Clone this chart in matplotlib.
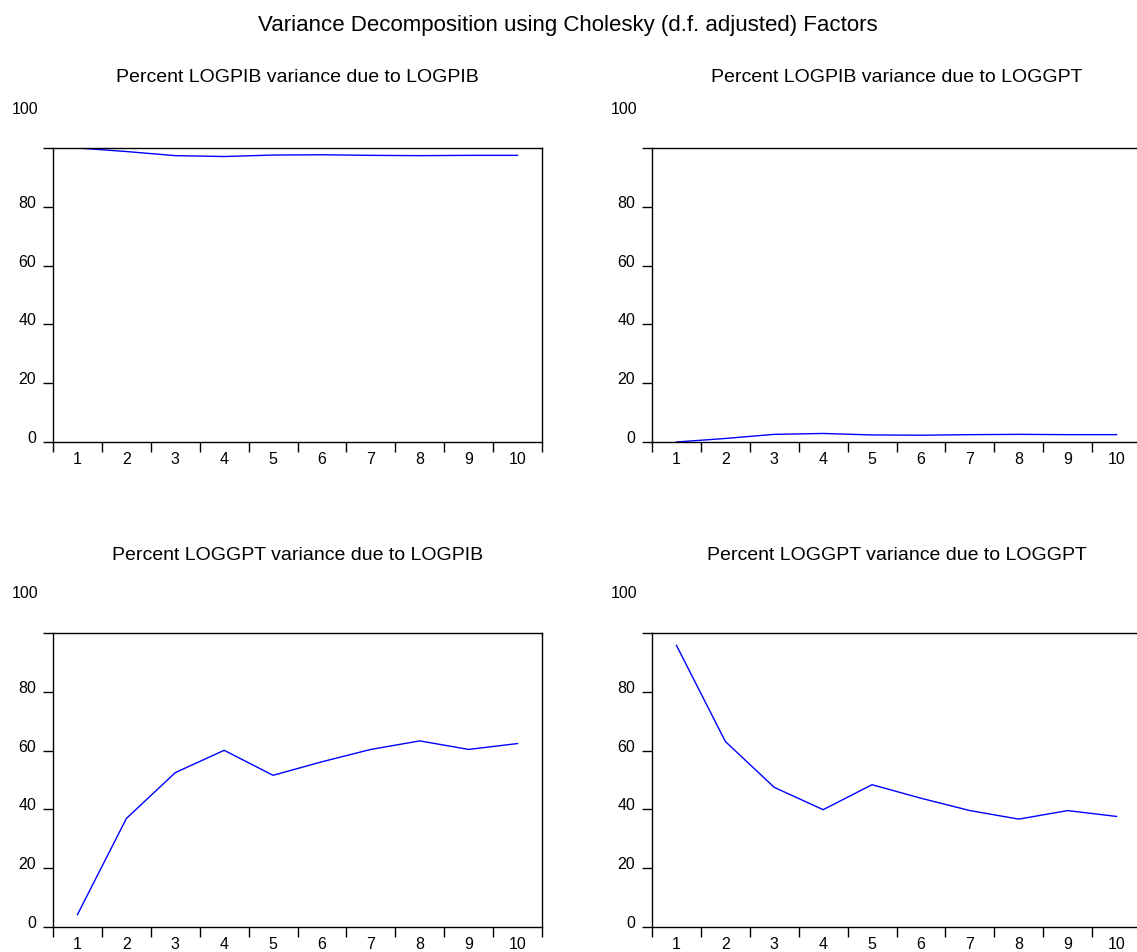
import matplotlib
matplotlib.use("Agg")
import matplotlib.pyplot as plt
from matplotlib.transforms import ScaledTranslation
import numpy as np

plt.rcParams['font.family'] = ['Liberation Sans', 'DejaVu Sans']

periodos = [1, 2, 3, 4, 5, 6, 7, 8, 9, 10]
pib_pib = [100.0, 98.8, 97.4, 97.1, 97.6, 97.7, 97.5, 97.4, 97.5, 97.5]
pib_gpt = [0.0, 1.2, 2.6, 2.9, 2.4, 2.3, 2.5, 2.6, 2.5, 2.5]
gpt_pib = [4.2, 36.9, 52.5, 60.1, 51.6, 56.2, 60.4, 63.3, 60.4, 62.4]
gpt_gpt = [95.8, 63.1, 47.5, 39.9, 48.4, 43.8, 39.6, 36.7, 39.6, 37.6]

titulos = ["Percent LOGPIB variance due to LOGPIB",
           "Percent LOGPIB variance due to LOGGPT",
           "Percent LOGGPT variance due to LOGPIB",
           "Percent LOGGPT variance due to LOGGPT"]
series = [pib_pib, pib_gpt, gpt_pib, gpt_gpt]

W, H = 1137, 952
fig = plt.figure(figsize=(W / 100, H / 100), dpi=100)

# esquina sup. izq. de cada panel en pixeles, y altura del subtitulo
esquinas = [(53, 148, 78), (652, 148, 78), (53, 633, 555), (652, 633, 555)]
ancho, alto = 489, 294

fig.text(568 / W, 1 - 26 / H, "Variance Decomposition using Cholesky (d.f. adjusted) Factors",
         ha='center', va='center', fontsize=16)

for (x0, y0, yt), datos, tit in zip(esquinas, series, titulos):
    ax = fig.add_axes([x0 / W, 1 - (y0 + alto) / H, ancho / W, alto / H])
    ax.plot(periodos, datos, color='#0000ff', lw=1.0)
    ax.set_xlim(0.5, 10.5)
    ax.set_ylim(0, 100)
    for s in ax.spines.values():
        s.set_linewidth(1.0)
    # ticks entre categorias, etiquetas centradas
    ax.set_xticks(np.arange(0.5, 11, 1))
    ax.set_xticklabels([])
    ax.set_xticks(periodos, minor=True)
    ax.set_xticklabels([str(p) for p in periodos], minor=True)
    ax.tick_params(axis='x', which='major', direction='out', length=7, width=1)
    ax.tick_params(axis='x', which='minor', length=0, pad=7, labelsize=11.5)
    ax.set_yticks([0, 20, 40, 60, 80, 100])
    ax.set_yticklabels(['0', '20', '40', '60', '80', ''])
    ax.tick_params(axis='y', direction='out', length=7, width=1, pad=5, labelsize=11.5)
    for lab in ax.get_yticklabels():
        lab.set_transform(lab.get_transform() + ScaledTranslation(0, 5 / 100, fig.dpi_scale_trans))
    ax.annotate("100", xy=(0, 1), xycoords='axes fraction', xytext=(-15, 39),
                textcoords='offset pixels', ha='right', va='center', fontsize=11.5)
    fig.text((x0 + ancho / 2) / W, 1 - yt / H, tit, ha='center', va='center', fontsize=14)

fig.savefig("out.png", dpi=100)
